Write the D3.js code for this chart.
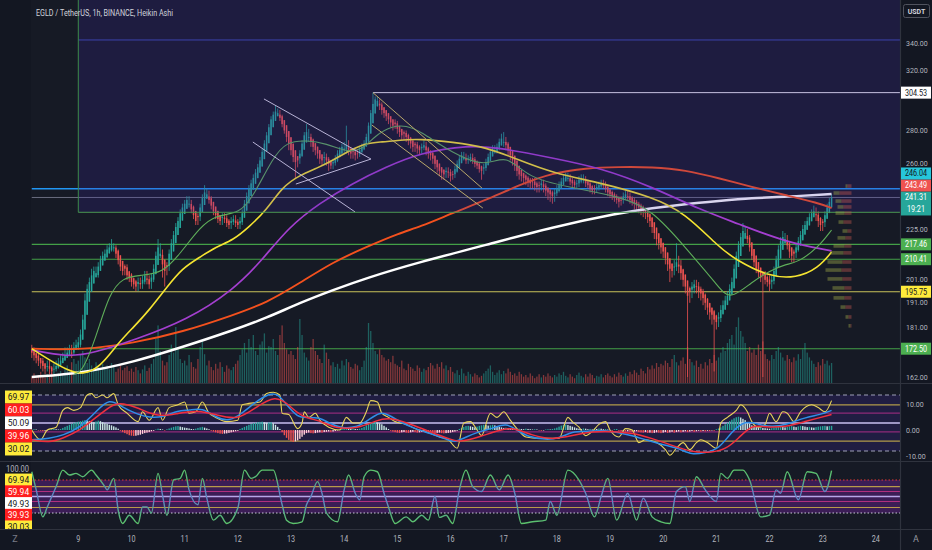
<!DOCTYPE html>
<html><head><meta charset="utf-8">
<script src="https://cdn.jsdelivr.net/npm/d3@7/dist/d3.min.js"></script>
<style>html,body{margin:0;padding:0;background:#131722;overflow:hidden}svg{display:block;font-family:Roboto,"Noto Sans",sans-serif}</style>
</head><body><svg id="c" width="932" height="550"></svg>
<script>
// ---------- DATA (hourly Heikin Ashi bars, bar 0 = day 8 03:00) ----------
const firstOpen = 172;
const closes = [
171,170,169,168,167,166,165,166,165,164,165,166,167,168,169,170,171,172,171,173,174,
175,178,184,192,197,200,203,205,204,207,210,212,213,215,216,217,216,213,210,207,205,206,203,202,
200,199,198,200,199,201,203,201,199,202,206,212,216,213,208,205,207,213,218,222,226,229,233,236,
238,240,238,235,232,229,231,236,241,244,243,240,237,234,232,230,229,231,230,228,227,229,230,228,
227,229,233,238,242,246,249,252,255,258,262,267,272,277,282,287,290,292,291,288,284,280,276,272,
268,264,261,262,266,272,277,279,276,273,270,268,266,263,262,264,262,260,259,261,263,266,268,270,
269,271,268,266,267,265,266,268,270,272,276,283,291,297,300,299,296,293,291,289,287,285,283,284,
281,279,277,278,276,274,272,270,271,269,268,270,271,268,266,265,263,260,258,256,255,254,256,255,
253,254,257,260,263,265,264,262,263,264,262,260,259,257,256,258,261,264,267,269,268,270,273,275,
273,271,268,265,262,259,256,254,253,252,251,250,249,250,248,247,248,249,247,245,244,243,242,244,
246,248,250,252,253,252,250,249,248,249,251,252,251,249,248,246,245,246,247,248,249,248,246,244,
243,242,241,240,239,240,242,243,242,240,239,238,237,236,235,234,233,231,229,226,223,220,218,216,
214,211,208,206,205,207,209,207,204,201,198,194,196,198,199,198,196,195,193,191,189,187,186,184,
183,185,188,190,192,194,197,200,206,212,217,221,224,223,220,216,212,209,206,204,202,203,201,200,
199,201,205,210,215,219,221,220,217,214,212,213,216,219,222,225,227,229,231,233,234,232,229,227,
228,232,236,239,241.31];
const highs = [
174,173,171,171,169,169,167,168,168,166,167,168,169,170,171,173,173,174,174,175,176,
177,180,186,195,199,202,206,207,207,209,212,214,215,217,218,220,218,217,215,212,209,208,208,205,
204,202,201,202,202,203,205,205,203,204,208,214,220,218,215,210,209,215,220,224,228,231,235,238,
240,242,242,240,237,234,233,238,243,248,246,245,242,239,236,234,232,233,233,232,230,231,232,232,
230,231,235,240,244,248,251,254,257,260,264,269,274,279,284,289,292,296,294,293,290,286,282,278,
274,270,266,264,268,274,279,284,281,278,275,272,270,268,265,267,266,264,262,263,265,268,270,272,
273,283,274,270,269,269,268,270,272,274,278,285,293,304.5,302,302,300,298,294,292,291,289,287,287,
286,283,281,280,280,278,276,274,273,273,271,272,274,273,270,268,267,265,262,260,258,257,258,258,
257,256,259,262,265,267,267,266,265,266,266,264,262,261,259,260,263,266,269,271,271,272,275,278,
279,276,273,270,267,264,261,258,256,255,254,253,252,252,252,250,250,251,251,249,247,246,245,246,
248,250,252,254,255,255,254,252,251,251,253,254,254,253,251,250,248,248,249,250,251,251,250,248,
246,245,244,243,242,242,244,245,245,244,242,241,240,239,238,237,236,235,233,231,228,225,222,220,
218,216,213,210,208,210,218,212,210,206,203,200,198,200,201,201,200,198,197,195,193,191,189,188,
186,187,190,192,194,196,199,202,208,214,219,223,228,226,225,222,218,214,211,208,206,205,205,203,
203,203,207,212,217,221,224,223,222,219,216,215,218,221,224,227,229,231,233,235,237,236,234,231,
230,234,238,241,243];
const lows = [
169,168,167,166,165,164,163,164,163,162,163,164,165,166,167,168,169,170,169,170,172,
172,173,176,182,189,195,198,201,202,202,205,208,210,211,213,214,214,211,208,205,203,203,201,200,
198,197,196,196,197,197,199,199,197,197,200,204,210,211,202,198,203,205,211,216,220,224,227,231,
234,236,236,233,230,227,227,229,234,239,241,238,235,232,230,228,227,227,228,226,225,225,227,226,
225,225,227,231,236,240,244,247,250,253,256,260,265,270,275,280,285,288,289,286,282,278,273,268,
265,261,252,258,260,264,270,275,273,270,267,265,263,260,259,260,259,256,257,257,259,261,264,266,
266,266,265,263,263,262,263,264,266,268,270,274,281,289,295,296,293,290,288,286,284,282,280,281,
278,276,274,274,273,271,269,267,267,266,265,266,268,265,263,262,260,257,255,253,251,251,252,252,
250,251,252,255,258,261,262,260,260,261,260,258,257,255,251,254,256,259,262,265,266,266,268,271,
270,268,265,262,259,256,253,251,250,249,248,247,246,246,245,244,244,245,244,242,240,239,238,239,
242,244,246,248,250,250,248,247,246,246,247,249,249,247,246,244,243,243,244,245,246,246,244,242,
241,240,239,238,236,237,238,240,240,238,237,235,234,233,232,231,230,228,226,223,220,217,215,213,
211,208,205,200,202,203,205,204,201,198,195,162,191,193,195,195,193,192,190,188,186,184,182,164,
180,181,183,186,188,190,192,195,198,204,210,215,219,221,218,214,210,207,204,202,200,162,199,198,
196,197,199,203,208,213,217,218,215,211,209,209,211,214,217,220,223,225,227,229,231,229,226,224,
224,226,230,234,237];
const volumes = [
8,12,6,10,14,9,7,11,8,13,10,9,12,15,11,18,22,14,26,30,24,
28,35,40,32,25,30,22,18,26,20,16,24,19,22,17,25,20,14,18,22,16,19,21,15,
18,14,20,16,12,17,22,15,19,24,30,55,72,40,28,22,26,35,48,38,70,45,30,25,
28,22,35,26,20,18,30,45,52,36,22,28,20,16,24,18,26,20,14,22,18,16,20,24,
28,35,42,50,38,55,45,60,40,35,48,52,62,38,46,45,55,40,35,60,72,50,42,36,
40,35,30,45,80,60,38,32,28,45,55,40,35,30,25,48,38,30,22,26,20,24,18,28,
22,30,26,20,18,24,22,16,20,28,45,75,65,50,40,36,42,35,32,28,30,26,34,24,
22,20,28,18,16,24,20,18,15,22,19,14,18,16,20,25,22,18,24,20,26,18,22,16,
20,14,12,16,10,18,12,9,14,11,8,12,10,7,9,12,15,18,22,14,10,13,16,11,
15,12,18,14,10,12,9,14,11,8,10,7,12,9,6,8,11,7,10,8,12,9,7,10,
8,12,10,14,9,7,11,8,6,10,13,9,7,11,8,12,10,6,9,8,11,7,10,12,
9,7,11,8,13,10,8,12,9,14,11,16,13,10,18,15,12,20,17,22,18,25,20,24,
22,28,25,20,30,35,26,22,28,32,24,45,30,26,22,28,20,24,18,26,22,30,25,35,
28,32,38,45,40,50,55,60,48,70,82,65,58,50,40,45,38,42,35,48,40,52,36,30,
28,35,30,40,45,38,32,28,35,30,26,32,28,36,30,42,50,38,32,28,24,20,26,22,
30,24,28,22,25];
const histogram = [
0.2,0.3,0.2,-0.2,-0.3,-0.4,-0.3,-0.2,0.2,0.3,0.4,0.3,0.2,0.4,0.8,1.2,1.6,2.0,2.4,2.8,3.0,
3.2,3.4,3.6,3.8,3.7,3.5,3.2,3.0,3.3,3.6,3.4,3.0,2.6,2.4,2.0,1.8,1.4,1.0,0.5,-0.3,-0.8,-1.2,-1.6,-2.0,
-2.2,-2.3,-2.2,-2.0,-1.8,-1.5,-1.2,-1.0,-0.8,-0.5,-0.3,0.2,0.5,0.4,0.2,-0.2,0.3,0.6,0.9,1.2,1.4,1.5,1.3,1.1,
0.9,0.8,0.6,0.4,0.3,0.5,0.8,1.0,1.2,0.9,0.6,0.3,-0.3,-0.6,-0.9,-1.2,-1.4,-1.5,-1.4,-1.3,-1.1,-0.9,-0.7,-0.5,
-0.3,0.4,0.8,1.2,1.6,2.0,2.3,2.6,2.8,3.0,3.1,3.2,3.0,2.8,2.9,3.0,2.6,2.0,1.2,0.4,-0.8,-2.0,-3.0,-3.8,
-4.3,-4.6,-4.4,-4.0,-3.4,-2.6,-1.8,-1.2,-1.0,-1.2,-1.3,-1.2,-1.0,-0.9,-1.0,-0.8,-0.7,-0.6,-0.8,-0.6,-0.4,-0.2,0.3,0.5,
0.7,0.8,0.6,0.5,0.6,0.4,0.3,0.5,0.8,1.2,1.8,2.4,2.8,3.0,3.1,2.9,2.6,2.2,1.6,1.0,0.4,-0.3,-0.6,-0.8,
-1.0,-1.1,-0.9,-0.8,-1.0,-1.1,-0.9,-0.7,-0.8,-1.0,-0.9,-0.7,-0.6,-0.8,-0.9,-1.0,-1.1,-1.2,-1.1,-1.0,-1.2,-1.3,-1.2,-1.1,
-1.0,-0.8,-0.6,-0.3,0.4,0.8,1.2,1.5,1.6,1.4,1.2,1.0,1.3,1.6,1.8,2.0,1.9,1.7,1.8,2.0,1.8,1.5,1.2,1.0,
0.8,0.9,0.7,0.6,0.5,0.6,0.4,0.5,0.4,0.3,0.5,0.4,0.3,0.2,0.3,0.2,-0.2,-0.3,-0.2,0.2,0.3,0.2,0.4,0.6,
0.9,1.3,1.7,2.0,2.1,1.9,1.6,1.3,1.0,0.7,0.5,0.4,0.6,0.5,0.3,0.4,0.2,0.5,0.4,0.6,0.5,0.3,0.4,0.2,
-0.2,-0.3,0.3,0.4,-0.3,-0.5,-0.4,-0.6,-0.5,-0.7,-0.8,-0.6,-0.5,-0.8,-0.9,-1.0,-0.8,-1.1,-1.0,-1.2,-1.1,-0.9,-1.0,-1.2,
-1.0,-0.8,-1.1,-0.9,-0.7,-1.0,-0.8,-0.6,-0.9,-0.7,-0.5,-0.8,-0.6,-0.4,-0.7,-0.5,-0.3,-0.6,-0.4,-0.5,-0.3,-0.4,-0.2,-0.3,
0.3,0.6,1.0,1.6,2.2,2.8,3.4,4.0,4.5,4.9,5.1,4.8,4.3,3.8,3.0,2.4,1.8,1.4,1.1,0.9,1.0,0.8,0.7,0.6,
0.5,0.7,0.9,1.1,1.3,1.4,1.2,1.0,1.2,1.4,1.5,1.3,1.1,1.4,1.6,1.5,1.3,1.1,1.2,1.0,0.9,1.1,1.3,1.4,
1.5,1.6,1.4,1.5,1.6];

// moving averages (bar index, price)
const maGreenT = [19,23,29,35,41,49,59,67,76,83,94,100,109,115,124,133,142,149,155,163,169,175,190,205,214,224,242,265,280,295,310,315,325,333,340,346,355,361];
const maGreenV = [163,164,177,195,202,203,204,213,226,232,233,242,264,273,274,272,267,268,277,283,283,280,266,258,266,252,247,242,235,216,198,192,200,205,208,209,216,224.5];
const maYellowT = [0,8,16,23,31,39,46,53,61,68,76,83,91,98,106,113,121,129,136,144,151,158,166,175,190,205,220,235,257,280,295,310,318,333,345,355,361];
const maYellowV = [172.5,168.2,164.5,162.7,165.6,174.7,181,187.9,197.8,206.3,211.4,216.2,219.6,226,234.7,247,253.6,257.6,262.2,268.1,272.3,272.9,274.1,274.8,272.9,269.9,262.2,254.8,249.2,241.6,233.1,216.2,210,202.3,201.8,206.3,213.8];
const maPurpleT = [0,16,28,46,70,91,104,116,130,145,160,175,197,212,235,257,280,302,318,340,361];
const maPurpleV = [172,169.3,170.9,175.8,183.8,196.5,210,226,238.4,249.2,258.2,266.3,271.1,269.3,263.4,257.6,247,234.7,228,218.6,214.3];
const maRedT = [0,23,46,68,91,106,121,136,151,166,175,190,205,220,235,250,265,280,295,310,325,340,355,361];
const maRedV = [172.5,172,174.7,179,185.9,191,199.6,209.1,216.2,223,226,233.1,239.9,248.1,254.8,257.6,258.2,258.2,256.5,251.9,247,242.6,238.4,235.7];
const maWhiteT = [0,23,46,68,91,106,121,136,151,175,205,235,265,280,295,310,325,340,361];
const maWhiteV = [162,163.4,167.5,173.1,179.7,184.7,191,196.5,201.8,209.1,217.1,226,233.1,235.7,237.8,239.4,241,241.6,243.2];

// oscillator pane 1 (fast / mid / slow)
const fastT = [0,4,7,11,14,16,19,22,25,27,29,32,34,37,39,43,48,50,53,57,59,62,66,69,71,74,77,80,83,88,93,95,98,103,106,109,112,113,116,120,122,123,125,128,130,134,139,142,145,148,151,153,156,158,161,164,169,173,179,184,188,192,195,198,201,203,207,210,213,216,219,223,229,233,238,242,244,247,250,253,256,259,261,265,268,271,274,277,282,286,288,291,294,297,300,302,305,309,311,314,318,320,323,325,328,331,333,336,339,341,344,347,352,355,358,361];
const fastV = [45,38,45,47,59,61,59,61,70,71,68,70,68,71,63,57,51,58,52,61,52,61,63,65,57,58,65,57,54,51,52,63,64,65,71,72,70,57,56,46,50,58,54,57,52,47,45,54,50,50,58,66,65,57,54,51,49,46,43,40,38,32,50,51,45,41,57,54,58,52,46,40,39,39,39,54,51,47,41,44,49,51,45,40,46,45,36,38,36,31,27,32,36,31,36,38,36,32,50,54,59,63,58,51,47,49,57,51,58,57,51,58,63,61,58,66];
const midT = [0,8,14,22,29,35,41,48,53,59,66,71,77,83,89,95,101,107,111,115,120,124,130,134,140,147,152,157,161,167,173,179,188,191,196,202,208,214,219,224,232,238,244,250,259,265,271,277,286,292,298,304,310,316,322,328,334,341,349,356,361];
const midV = [38,39,41,47,58,68,61,56,54,54,59,59,61,54,51,57,65,71,71,63,54,54,54,50,46,47,52,58,56,50,46,43,38,36,40,44,46,50,45,40,38,39,44,44,45,43,41,38,34,32,27,29,31,44,52,49,47,49,54,56,59];
const slowT = [0,8,14,22,29,37,41,48,57,66,75,83,93,101,110,116,122,130,137,147,156,161,170,179,188,193,202,211,217,226,235,244,253,262,271,280,289,298,307,313,319,325,331,340,349,356,361];
const slowV = [38,36,39,45,54,64,64,61,54,57,59,56,52,61,70,63,54,52,46,46,52,54,50,44,39,36,40,45,47,41,38,41,44,44,43,39,34,29,29,31,39,49,47,47,51,54,56];

// pane 2 stochastic line
const stochT = [0,2,5,7,11,14,17,20,23,27,29,33,34,37,39,41,44,48,50,52,54,57,59,61,64,67,69,71,75,77,79,82,85,88,93,96,99,101,104,109,113,115,118,122,124,126,129,131,133,138,141,143,146,148,150,153,156,159,161,164,169,172,176,179,182,184,187,190,193,196,199,203,207,211,215,218,221,226,232,234,237,242,247,250,254,257,260,264,269,273,276,280,284,288,291,295,297,300,304,309,311,314,317,321,324,329,333,336,338,341,346,350,354,358,361];
const stochV = [95,62,13,31,68,98,89,92,86,98,89,68,62,83,25,1,16,1,31,31,20,92,53,16,80,83,98,62,35,83,47,7,16,1,29,98,83,86,98,98,35,7,1,4,35,50,77,56,20,4,62,89,56,44,86,98,95,56,31,1,13,4,16,7,50,12,16,1,62,98,68,59,89,62,89,56,1,4,7,41,16,98,80,56,13,50,83,7,56,7,47,13,4,1,59,68,41,86,62,41,92,83,98,98,80,13,16,62,56,95,44,95,92,59,97];

// volume profile rows (price, up volume, down volume)
const vpPrice = [247.5,243.7,239.4,236.3,233.1,228.5,224,220.6,216.7,213.4,209.1,205.4,201.4,197.4,193.1,189.2,185.1,181.5];
const vpUp    = [2,6,6,6,9,5,5,8,11,13,15,16,15,12,11,5,3,2];
const vpDown  = [4,12,10,8,7,8,4,6,7,8,9,10,9,7,7,6,3,1];

// drawn trend lines (bar, price)
const trendT0 = [104.8, 99.8, 119.2, 154, 153.5];
const trendP0 = [300.3, 272.9, 248.6, 304.5, 283.4];
const trendT1 = [153.1, 145.9, 153.1, 203.2, 203.6];
const trendP1 = [262.8, 233.7, 262.8, 246.4, 235.7];
const trendCol = ['#d6d6e0','#d6d6e0','#d6d6e0','#d8c85a','#d8c85a'];

// horizontal levels (price, start bar)
const levelP = [342.3, 304.53, 246.04, 241.31, 217.46, 210.41, 195.75, 172.5];
const levelFrom = [21, 154, 0, 0, 0, 0, 0, 0];
const levelCol = ['#3949ab','#e8e8ee','#2196f3','#7d8196','#43a047','#43a047','#c8c25a','#43a047'];
const levelW = [1, 1, 1.6, 0.8, 1.1, 1.1, 1.1, 1.1];
const boxFromBar = 21, boxBottomPrice = 233.5;

// price tags on the right axis
const tagV = [304.53, 246.04, 243.49, 241.31, 217.46, 210.41, 195.75, 172.50];
const tagBg = ['#ffffff','#26c6da','#ef5350','#26a69a','#4caf50','#4caf50','#ffeb3b','#4caf50'];
const tagFg = ['#131722','#131722','#ffffff','#ffffff','#ffffff','#ffffff','#131722','#ffffff'];
const tagSub = ['','','','19:21','','','',''];
const priceTicks = [340,320,280,260,225,201,191,181,162];
const macdTicks = [10,0,-10];
const dayTicks = [9,10,11,12,13,14,15,16,17,18,19,20,21,22,23,24];

// left column labels
const p1Labels = ['69.97','60.03','50.09','39.96','30.02'];
const p1LabelV = [69.97,60.03,50.09,39.96,30.02];
const p2Labels = ['69.94','59.94','49.93','39.93','30.03'];
const p2LabelV = [69.94,59.94,49.93,39.93,30.03];
const lblBg = ['#ffeb3b','#ff1e1e','#ffffff','#ff1e1e','#ffeb3b'];
const lblFg = ['#131722','#ffffff','#131722','#ffffff','#131722'];

// ---------- SCALES ----------
const svg = d3.select('#c');
const x = d3.scaleLinear().domain([21,357]).range([78.3,822.7]);
const y = d3.scaleLog().domain([340,162]).range([43,377]);
const yVol = d3.scaleLinear().domain([0,100]).range([0,80]);
const yOsc = d3.scaleLinear().domain([30,70]).range([451,395]);
const yMacd = d3.scaleLinear().domain([-10,10]).range([456,404]);
const ySt = d3.scaleLinear().domain([0,100]).range([524,469]);
const yLbl1 = d3.scaleLinear().domain([30,70]).range([449,397]);
const yLbl2 = d3.scaleLinear().domain([30,70]).range([527,480]);
const L = 31, R = 900, MB = 383;

const defs = svg.append('defs');
defs.append('clipPath').attr('id','cm').append('rect').attr('x',L).attr('y',0).attr('width',R-L).attr('height',MB);
defs.append('clipPath').attr('id','c1').append('rect').attr('x',L).attr('y',385).attr('width',R-L).attr('height',76);
defs.append('clipPath').attr('id','c2').append('rect').attr('x',0).attr('y',462).attr('width',R).attr('height',67);
const gr = defs.append('linearGradient').attr('id','stg').attr('gradientUnits','userSpaceOnUse')
  .attr('x1',0).attr('x2',0).attr('y1',ySt(100)).attr('y2',ySt(0));
[[0,'#5cc46a'],[0.22,'#56b37a'],[0.4,'#5f86c2'],[0.6,'#5f86c2'],[0.8,'#56ae84'],[1,'#5cc46a']]
  .forEach(s=>gr.append('stop').attr('offset',s[0]).attr('stop-color',s[1]));

// backgrounds
svg.append('rect').attr('width',932).attr('height',550).attr('fill','#131722');
svg.append('rect').attr('x',L).attr('y',0).attr('width',R-L).attr('height',529).attr('fill','#161a25');

// ---------- MAIN PANE ----------
const gm = svg.append('g').attr('clip-path','url(#cm)');
const bars = closes.map((c,i)=>({i,c}));
const opens = [];
closes.forEach((c,i)=>opens.push(i===0?firstOpen:(opens[i-1]+closes[i-1])/2));
bars.forEach(b=>{b.o=opens[b.i];b.h=Math.max(highs[b.i],b.o,b.c);b.l=Math.min(lows[b.i],b.o,b.c);b.up=b.c>=b.o;b.v=volumes[b.i];});

gm.selectAll('line.lvl').data(levelP).join('line').attr('class','lvl')
  .attr('x1',(d,i)=>x(levelFrom[i])).attr('x2',R).attr('y1',d=>y(d)).attr('y2',d=>y(d))
  .attr('stroke',(d,i)=>levelCol[i]).attr('stroke-width',(d,i)=>levelW[i]);

gm.selectAll('rect.vol').data(bars).join('rect').attr('class','vol')
  .attr('x',d=>x(d.i)-0.65).attr('width',1.3).attr('y',d=>MB-yVol(d.v)).attr('height',d=>yVol(d.v))
  .attr('fill',d=>d.up?'rgba(38,166,154,0.5)':'rgba(239,83,80,0.5)');

gm.selectAll('line.wick').data(bars).join('line').attr('class','wick')
  .attr('x1',d=>x(d.i)).attr('x2',d=>x(d.i)).attr('y1',d=>y(d.h)).attr('y2',d=>y(d.l))
  .attr('stroke',d=>d.up?'#26a69a':'#ef5350').attr('stroke-width',0.8);
gm.selectAll('rect.body').data(bars).join('rect').attr('class','body')
  .attr('x',d=>x(d.i)-0.75).attr('width',1.5)
  .attr('y',d=>y(Math.max(d.o,d.c))).attr('height',d=>Math.max(0.9,y(Math.min(d.o,d.c))-y(Math.max(d.o,d.c))))
  .attr('fill',d=>d.up?'#26a69a':'#ef5350');

const maLine = d3.line().x(d=>x(d[0])).y(d=>y(d[1])).curve(d3.curveBasis);
const mas = [[maWhiteT,maWhiteV,'#ffffff',2.5],[maRedT,maRedV,'#f4511e',1.9],[maPurpleT,maPurpleV,'#a43fd0',1.7],[maYellowT,maYellowV,'#f5e431',1.6],[maGreenT,maGreenV,'#5fae5a',1.1]];
gm.selectAll('path.ma').data(mas).join('path').attr('class','ma')
  .attr('d',m=>maLine(m[0].map((t,i)=>[t,m[1][i]]))).attr('fill','none')
  .attr('stroke',m=>m[2]).attr('stroke-width',m=>m[3]);

gm.selectAll('line.tr').data(trendT0).join('line').attr('class','tr')
  .attr('x1',(d,i)=>x(d)).attr('y1',(d,i)=>y(trendP0[i])).attr('x2',(d,i)=>x(trendT1[i])).attr('y2',(d,i)=>y(trendP1[i]))
  .attr('stroke',(d,i)=>trendCol[i]).attr('stroke-width',1);

gm.append('rect').attr('x',x(boxFromBar)).attr('y',0).attr('width',R-x(boxFromBar)).attr('height',y(boxBottomPrice))
  .attr('fill','rgba(63,40,175,0.2)');
gm.append('line').attr('x1',x(boxFromBar)).attr('x2',x(boxFromBar)).attr('y1',0).attr('y2',y(boxBottomPrice)).attr('stroke','#3d8a4a').attr('stroke-width',1);
gm.append('line').attr('x1',x(boxFromBar)).attr('x2',R).attr('y1',y(boxBottomPrice)).attr('y2',y(boxBottomPrice)).attr('stroke','#4a9a52').attr('stroke-width',1);

const vpRight = x(370);
const vpRows = vpPrice.map((p,i)=>({p,u:vpUp[i],d:vpDown[i]}));
gm.selectAll('rect.vpu').data(vpRows).join('rect').attr('class','vpu')
  .attr('x',d=>vpRight-d.u-d.d).attr('width',d=>d.u).attr('y',d=>y(d.p)-1.8).attr('height',3.6)
  .attr('fill','rgba(150,160,70,0.45)');
gm.selectAll('rect.vpd').data(vpRows).join('rect').attr('class','vpd')
  .attr('x',d=>vpRight-d.d).attr('width',d=>d.d).attr('y',d=>y(d.p)-1.8).attr('height',3.6)
  .attr('fill','rgba(200,90,80,0.4)');

svg.append('text').attr('x',36).attr('y',16).attr('font-size',9.5).attr('fill','#d1d4dc')
  .attr('textLength',137).attr('lengthAdjust','spacingAndGlyphs').text('EGLD / TetherUS, 1h, BINANCE, Heikin Ashi');

// ---------- PANE 1 ----------
const g1 = svg.append('g').attr('clip-path','url(#c1)');
g1.append('rect').attr('x',L).attr('width',R-L).attr('y',yOsc(70)).attr('height',yOsc(30)-yOsc(70)).attr('fill','rgba(70,40,175,0.22)');
const p1Lv = [[70,'#9ea0b8',1,'4,3'],[62.9,'#b09a4a',1.2,null],[57.1,'#8e2a78',1.2,null],[50,'#c9bff2',1.4,null],[43.6,'#8e2a78',1.2,null],[37.1,'#b09a4a',1.2,null],[30,'#9ea0b8',1,'4,3']];
g1.selectAll('line.l1').data(p1Lv).join('line').attr('class','l1')
  .attr('x1',L).attr('x2',R).attr('y1',d=>yOsc(d[0])).attr('y2',d=>yOsc(d[0]))
  .attr('stroke',d=>d[1]).attr('stroke-width',d=>d[2]).attr('stroke-dasharray',d=>d[3]);
const hdat = histogram.map((v,i)=>({i,v,p:i?histogram[i-1]:v}));
g1.selectAll('rect.h').data(hdat).join('rect').attr('class','h')
  .attr('x',d=>x(d.i)-0.7).attr('width',1.4)
  .attr('y',d=>Math.min(yMacd(d.v),yMacd(0))).attr('height',d=>Math.abs(yMacd(d.v)-yMacd(0)))
  .attr('fill',d=>d.v>=0?(d.v>=d.p?'#26a69a':'#c8e6e2'):(d.v<=d.p?'#ef5350':'#ffd0d6'));
const oscLine = (c)=>d3.line().x(d=>x(d[0])).y(d=>yOsc(d[1])).curve(c);
g1.append('path').attr('d',oscLine(d3.curveMonotoneX)(fastT.map((t,i)=>[t,fastV[i]]))).attr('fill','none').attr('stroke','#e9d55a').attr('stroke-width',1.1);
g1.append('path').attr('d',oscLine(d3.curveBasis)(midT.map((t,i)=>[t,midV[i]]))).attr('fill','none').attr('stroke','#2f8fe8').attr('stroke-width',1.5);
g1.append('path').attr('d',oscLine(d3.curveBasis)(slowT.map((t,i)=>[t,slowV[i]]))).attr('fill','none').attr('stroke','#f0303e').attr('stroke-width',1.5);

// ---------- PANE 2 ----------
const g2 = svg.append('g').attr('clip-path','url(#c2)');
g2.append('rect').attr('x',L).attr('width',R-L).attr('y',ySt(80)).attr('height',ySt(20)-ySt(80)).attr('fill','rgba(125,35,175,0.36)');
const p2Lv = [[80,'#e53935',1.2,'1.5,2'],[68,'#b89a4a',1.2,null],[59,'#b0307e',1.1,null],[50,'#b9a6e8',1.6,null],[41,'#b0307e',1.1,null],[30,'#b89a4a',1.2,null],[20,'#c9c9d6',1.2,'1.5,2']];
g2.selectAll('line.l2').data(p2Lv).join('line').attr('class','l2')
  .attr('x1',L).attr('x2',R).attr('y1',d=>ySt(d[0])).attr('y2',d=>ySt(d[0]))
  .attr('stroke',d=>d[1]).attr('stroke-width',d=>d[2]).attr('stroke-dasharray',d=>d[3]);
g2.append('path').attr('d',d3.line().x(d=>x(d[0])).y(d=>ySt(d[1])).curve(d3.curveMonotoneX)(stochT.map((t,i)=>[t,stochV[i]])))
  .attr('fill','none').attr('stroke','url(#stg)').attr('stroke-width',1.4);
g2.append('text').attr('class','cond').attr('x',6).attr('y',ySt(100)+3).attr('font-size',8.5).attr('fill','#b2b5be').text('100.00');

function leftLabels(g, texts, vals, sc){
  const gg = g.selectAll(null).data(texts).join('g');
  gg.append('rect').attr('x',5).attr('width',27).attr('y',(d,i)=>sc(vals[i])-6.5).attr('height',13).attr('fill',(d,i)=>lblBg[i]);
  gg.append('text').attr('x',18.5).attr('y',(d,i)=>sc(vals[i])+3).attr('text-anchor','middle').attr('font-size',8.5)
    .attr('fill',(d,i)=>lblFg[i]).text(d=>d);
}
leftLabels(svg, p1Labels, p1LabelV, yLbl1);
leftLabels(g2, p2Labels, p2LabelV, yLbl2);

// ---------- SEPARATORS ----------
[383.5,461.5,529.5].forEach(v=>svg.append('line').attr('x1',0).attr('x2',932).attr('y1',v).attr('y2',v).attr('stroke','#2f333e').attr('stroke-width',1.2));
svg.append('line').attr('x1',900.5).attr('x2',900.5).attr('y1',0).attr('y2',550).attr('stroke','#2f333e').attr('stroke-width',1.2);

// ---------- RIGHT AXIS ----------
const ax = svg.append('g');
ax.selectAll('text.pt').data(priceTicks).join('text').attr('class','pt cond')
  .attr('x',906).attr('y',d=>y(d)+2.6).attr('font-size',8).attr('fill','#b2b5be').text(d=>d.toFixed(2));
ax.selectAll('text.mt').data(macdTicks).join('text').attr('class','mt cond')
  .attr('x',906).attr('y',d=>yMacd(d)+3).attr('font-size',8).attr('fill','#b2b5be').text(d=>d.toFixed(2));
ax.append('rect').attr('x',903.5).attr('y',4.5).attr('width',26).attr('height',13).attr('rx',2).attr('fill','#131722').attr('stroke','#50535e');
ax.append('text').attr('class','cond').attr('x',916.5).attr('y',14).attr('text-anchor','middle').attr('font-size',8).attr('font-weight','bold').attr('fill','#d1d4dc').text('USDT');

// stacked price tags
const tags = tagV.map((v,i)=>({v,bg:tagBg[i],fg:tagFg[i],sub:tagSub[i],h:tagSub[i]?24:12})).sort((a,b)=>y(b.v)-y(a.v));
let limit = 1e9;
tags.forEach(t=>{ let top=y(t.v)-6; if(top+t.h>limit) top=limit-t.h; t.top=top; limit=top; });
const tg = ax.selectAll('g.tag').data(tags).join('g').attr('class','tag');
tg.append('rect').attr('x',901).attr('width',30).attr('y',d=>d.top).attr('height',d=>d.h).attr('fill',d=>d.bg);
tg.append('text').attr('class','cond').attr('x',916).attr('text-anchor','middle').attr('y',d=>d.top+8.9).attr('font-size',8.2).attr('fill',d=>d.fg).text(d=>d.v.toFixed(2));
tg.filter(d=>d.sub).append('text').attr('class','cond').attr('x',916).attr('text-anchor','middle').attr('y',d=>d.top+20.5).attr('font-size',8.2).attr('fill',d=>d.fg).text(d=>d.sub);

// ---------- TIME AXIS ----------
svg.selectAll('text.day').data(dayTicks).join('text').attr('class','day cond2')
  .attr('x',d=>x(21+(d-9)*24)).attr('y',542).attr('text-anchor','middle').attr('font-size',9).attr('fill','#b2b5be').text(d=>d);
svg.append('text').attr('x',15).attr('y',542).attr('text-anchor','middle').attr('font-size',9).attr('fill','#787b86').text('Z');
svg.append('text').attr('x',916).attr('y',542).attr('text-anchor','middle').attr('font-size',9).attr('fill','#9598a1').text('A');

function condense(sel,f){ sel.each(function(){ const w=this.getComputedTextLength(); if(w>0){ this.setAttribute('textLength',(w*f).toFixed(2)); this.setAttribute('lengthAdjust','spacingAndGlyphs'); } }); }
condense(svg.selectAll('text.cond'),0.88);
condense(svg.selectAll('text.cond2'),0.8);
</script></body></html>
